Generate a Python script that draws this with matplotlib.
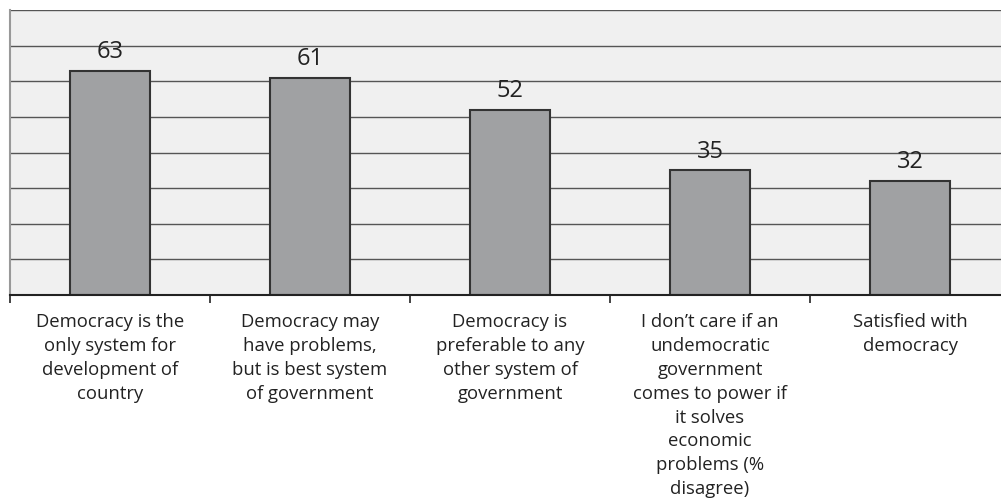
import numpy as np
import matplotlib.pyplot as plt

categories = [
    "Democracy is the\nonly system for\ndevelopment of\ncountry",
    "Democracy may\nhave problems,\nbut is best system\nof government",
    "Democracy is\npreferable to any\nother system of\ngovernment",
    "I don\u2019t care if an\nundemocratic\ngovernment\ncomes to power if\nit solves\neconomic\nproblems (%\ndisagree)",
    "Satisfied with\ndemocracy",
]
values = [63, 61, 52, 35, 32]

plt.rcParams['font.family'] = ['Open Sans', 'DejaVu Sans']

fig = plt.figure(figsize=(10.01, 4.99), dpi=100)
# plot area runs slightly past the right edge of the figure
ax = fig.add_axes([10 / 1001, 1 - 295 / 499, 1000 / 1001, 285 / 499])
ax.set_facecolor('#f0f0f0')

x = np.arange(len(values))
bars = ax.bar(x, values, width=0.4, color='#a0a1a3', edgecolor='#333333',
              linewidth=1.5, zorder=3)
for b, v in zip(bars, values):
    ax.text(b.get_x() + b.get_width() / 2, v + 1.9, str(v), ha='center',
            va='bottom', fontsize=17, color='#222222')

ax.set_xlim(-0.5, len(values) - 0.5)
ax.set_ylim(0, 80)
ax.set_yticks(np.arange(10, 81, 10))
ax.yaxis.grid(True, color='#555555', linewidth=1, zorder=0)
ax.tick_params(axis='y', length=0, labelleft=False)

ax.set_xticks(x)
ax.set_xticklabels(categories, fontsize=13.3, color='#222222', linespacing=1.42)
ax.set_xticks(np.arange(-0.5, len(values)), minor=True)
ax.tick_params(axis='x', which='major', length=0, pad=13)
ax.tick_params(axis='x', which='minor', length=6, width=1.2, color='#222222',
               direction='out')

for s in ['top', 'right']:
    ax.spines[s].set_visible(False)
ax.spines['left'].set_color('#999999')
ax.spines['left'].set_linewidth(1.5)
ax.spines['bottom'].set_color('#222222')
ax.spines['bottom'].set_linewidth(1.5)
ax.spines['bottom'].set_zorder(4)

fig.savefig('out.png', dpi=100)
